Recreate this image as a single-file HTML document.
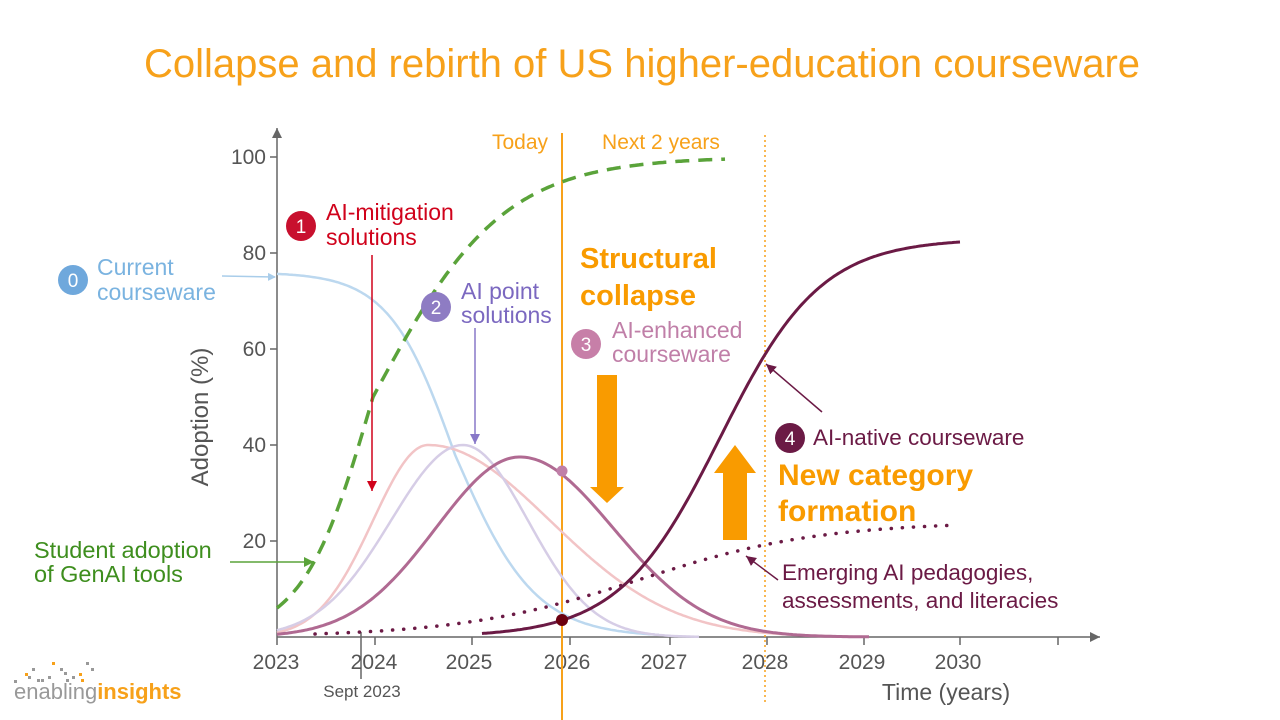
<!DOCTYPE html>
<html><head><meta charset="utf-8"><style>
body{margin:0;background:#fff;width:1280px;height:720px;overflow:hidden}
svg{display:block}
text{font-family:"Liberation Sans",sans-serif}
</style></head><body>
<svg id="s" width="1280" height="720" viewBox="0 0 1280 720" xmlns="http://www.w3.org/2000/svg">
<defs>
<marker id="ab" markerWidth="8" markerHeight="8" refX="7" refY="4" orient="auto" markerUnits="userSpaceOnUse"><path d="M0,0 L8,4 L0,8z" fill="#a9cdea"/></marker>
<marker id="ap" markerWidth="10" markerHeight="10" refX="10" refY="5" orient="auto" markerUnits="userSpaceOnUse"><path d="M0,0 L10,5 L0,10z" fill="#8878c8"/></marker>
<marker id="ar2" markerWidth="10" markerHeight="10" refX="10" refY="5" orient="auto" markerUnits="userSpaceOnUse"><path d="M0,0 L10,5 L0,10z" fill="#d0021b"/></marker>
<marker id="ag" markerWidth="10" markerHeight="10" refX="10" refY="5" orient="auto" markerUnits="userSpaceOnUse"><path d="M0,0 L10,5 L0,10z" fill="#5aa33a"/></marker>
<marker id="am" markerWidth="10" markerHeight="10" refX="10" refY="5" orient="auto" markerUnits="userSpaceOnUse"><path d="M0,0 L10,5 L0,10z" fill="#6b1a45"/></marker>
<marker id="ax" markerWidth="10" markerHeight="10" refX="10" refY="5" orient="auto" markerUnits="userSpaceOnUse"><path d="M0,0 L10,5 L0,10z" fill="#666"/></marker>
</defs>
<text x="642" y="77" text-anchor="middle" font-size="40" fill="#f7a11a">Collapse and rebirth of US higher-education courseware</text>

<!-- axes -->
<line x1="277" y1="637" x2="1100" y2="637" stroke="#666" stroke-width="1.5" marker-end="url(#ax)"/>
<line x1="277" y1="637" x2="277" y2="128" stroke="#666" stroke-width="1.5" marker-end="url(#ax)"/>
<g stroke="#666" stroke-width="1.5">
<line x1="270" y1="157" x2="277" y2="157"/><line x1="270" y1="253" x2="277" y2="253"/><line x1="270" y1="349" x2="277" y2="349"/><line x1="270" y1="445" x2="277" y2="445"/><line x1="270" y1="541" x2="277" y2="541"/>
<line x1="277" y1="637" x2="277" y2="645"/><line x1="375" y1="637" x2="375" y2="645"/><line x1="472" y1="637" x2="472" y2="645"/><line x1="570" y1="637" x2="570" y2="645"/><line x1="670" y1="637" x2="670" y2="645"/><line x1="767" y1="637" x2="767" y2="645"/><line x1="864" y1="637" x2="864" y2="645"/><line x1="960" y1="637" x2="960" y2="645"/><line x1="1058" y1="637" x2="1058" y2="645"/>
<line x1="361" y1="632" x2="361" y2="679"/>
</g>
<g font-size="21" fill="#555" text-anchor="end">
<text x="266" y="164">100</text><text x="266" y="260">80</text><text x="266" y="356">60</text><text x="266" y="452">40</text><text x="266" y="548">20</text>
</g>
<g font-size="21" fill="#555" text-anchor="middle">
<text x="276" y="669">2023</text><text x="374" y="669">2024</text><text x="469" y="669">2025</text><text x="567" y="669">2026</text><text x="664" y="669">2027</text><text x="765" y="669">2028</text><text x="862" y="669">2029</text><text x="958" y="669">2030</text>
</g>
<text x="362" y="697" font-size="17" fill="#555" text-anchor="middle">Sept 2023</text>
<text x="946" y="700" font-size="23" fill="#555" text-anchor="middle">Time (years)</text>
<text transform="translate(208,417) rotate(-90)" font-size="24" fill="#555" text-anchor="middle">Adoption (%)</text>

<!-- vertical lines -->
<line x1="562" y1="133" x2="562" y2="720" stroke="#f7a11a" stroke-width="2"/>
<line x1="765" y1="135" x2="765" y2="702" stroke="#f7a11a" stroke-width="1.5" stroke-dasharray="2,3"/>
<text x="520" y="149" font-size="21" fill="#f7a11a" text-anchor="middle">Today</text>
<text x="661" y="149" font-size="21" fill="#f7a11a" text-anchor="middle">Next 2 years</text>

<g id="curves" fill="none"></g>

<circle cx="562" cy="471" r="5.5" fill="#c07fa8"/>
<circle cx="562" cy="620" r="6" fill="#6b0010"/>

<!-- annotations arrows -->
<line x1="222" y1="276" x2="275" y2="277" stroke="#a9cdea" stroke-width="1.5" marker-end="url(#ab)"/>
<line x1="372" y1="255" x2="372" y2="491" stroke="#d0021b" stroke-width="1.5" marker-end="url(#ar2)"/>
<line x1="475" y1="328" x2="475" y2="444" stroke="#8878c8" stroke-width="1.5" marker-end="url(#ap)"/>
<line x1="230" y1="562" x2="314" y2="562" stroke="#5aa33a" stroke-width="1.5" marker-end="url(#ag)"/>
<line x1="822" y1="412" x2="766" y2="364" stroke="#6b1a45" stroke-width="1.5" marker-end="url(#am)"/>
<line x1="778" y1="580" x2="746" y2="556" stroke="#6b1a45" stroke-width="1.5" marker-end="url(#am)"/>
<path d="M597,375 H617 V487 H624 L607,503 L590,487 H597Z" fill="#f99b00"/>
<path d="M735,445 L756,473 H747 V540 H723 V473 H714Z" fill="#f99b00"/>

<!-- labels -->
<circle cx="73" cy="280" r="15" fill="#6fa8dc"/><text x="73" y="287" font-size="19" fill="#fff" text-anchor="middle">0</text>
<text x="97" y="275" font-size="23" fill="#7ab3e0">Current</text><text x="97" y="300" font-size="23" fill="#7ab3e0">courseware</text>
<circle cx="301" cy="226" r="15" fill="#c8102e"/><text x="301" y="233" font-size="19" fill="#fff" text-anchor="middle">1</text>
<text x="326" y="220" font-size="23" fill="#d0021b">AI-mitigation</text><text x="326" y="245" font-size="23" fill="#d0021b">solutions</text>
<circle cx="436" cy="307" r="15" fill="#8e7cc3"/><text x="436" y="314" font-size="19" fill="#fff" text-anchor="middle">2</text>
<text x="461" y="299" font-size="23" fill="#7b68c0">AI point</text><text x="461" y="323" font-size="23" fill="#7b68c0">solutions</text>
<circle cx="586" cy="344" r="15" fill="#c77fa8"/><text x="586" y="351" font-size="19" fill="#fff" text-anchor="middle">3</text>
<text x="612" y="338" font-size="23" fill="#c07fa8">AI-enhanced</text><text x="612" y="362" font-size="23" fill="#c07fa8">courseware</text>
<circle cx="790" cy="438" r="15" fill="#6b1a45"/><text x="790" y="445" font-size="19" fill="#fff" text-anchor="middle">4</text>
<text x="813" y="445" font-size="22.5" fill="#6b1a45">AI-native courseware</text>
<text x="580" y="268" font-size="29" font-weight="bold" fill="#f99b00">Structural</text><text x="580" y="305" font-size="29" font-weight="bold" fill="#f99b00">collapse</text>
<text x="778" y="485" font-size="30" font-weight="bold" fill="#f99b00">New category</text><text x="778" y="521" font-size="30" font-weight="bold" fill="#f99b00">formation</text>
<text x="782" y="580" font-size="22.5" fill="#6b1a45">Emerging AI pedagogies,</text><text x="782" y="608" font-size="22.5" fill="#6b1a45">assessments, and literacies</text>
<text x="34" y="558" font-size="23.5" fill="#3e8e1e">Student adoption</text><text x="34" y="582" font-size="23.5" fill="#3e8e1e">of GenAI tools</text>

<!-- logo -->
<g fill="#999">
<rect x="14" y="680" width="3" height="3"/><rect x="28" y="676" width="3" height="3"/><rect x="32" y="668" width="3" height="3"/><rect x="37" y="679" width="3" height="3"/><rect x="41" y="679" width="3" height="3"/><rect x="48" y="676" width="3" height="3"/><rect x="60" y="668" width="3" height="3"/><rect x="64" y="672" width="3" height="3"/><rect x="66" y="679" width="3" height="3"/><rect x="72" y="676" width="3" height="3"/><rect x="86" y="662" width="3" height="3"/><rect x="91" y="668" width="3" height="3"/>
</g>
<g fill="#f7a11a"><rect x="25" y="673" width="3" height="3"/><rect x="52" y="662" width="3" height="3"/><rect x="79" y="673" width="3" height="3"/><rect x="81" y="679" width="3" height="3"/></g>
<text x="14" y="699" font-size="22" fill="#999">enabling<tspan fill="#f7a11a" font-weight="bold">insights</tspan></text>
</svg>
<script>
var g=document.getElementById('curves');
function Y(v){return 637-4.8*v;}
function path(f,x0,x1,attrs){
  var d='';for(var x=x0;x<=x1;x+=2){d+=(x==x0?'M':'L')+x+','+Y(f(x)).toFixed(1);}
  var p=document.createElementNS('http://www.w3.org/2000/svg','path');p.setAttribute('d',d);
  for(var k in attrs)p.setAttribute(k,attrs[k]);g.appendChild(p);}
function gauss(x,c,a,sl,sr){var s=x<c?sl:sr;return a*Math.exp(-(x-c)*(x-c)/(2*s*s));}
path(function(x){var s=x<455?33:40;return 76/(1+Math.exp((x-455)/s));},277,660,{stroke:'#bcd8ef','stroke-width':2.5});
path(function(x){return gauss(x,428,40,55,122);},277,870,{stroke:'#f2c4c6','stroke-width':2.5});
path(function(x){return gauss(x,463,40,72,65);},277,700,{stroke:'#d6cde6','stroke-width':2.5});
path(function(x){return gauss(x,520,37.5,84,93);},277,870,{stroke:'#b06a92','stroke-width':3});
path(function(x){var s=x<373?35:65;return 100/(1+Math.exp(-(x-373)/s));},277,725,{stroke:'#5aa33a','stroke-width':3.5,'stroke-dasharray':'14,9'});
path(function(x){return 83/(1+Math.exp(-(x-720)/50.5));},482,960,{stroke:'#6b1a45','stroke-width':3});
path(function(x){return 24/(1+Math.exp(-(x-640)/90));},315,955,{stroke:'#6b1a45','stroke-width':3.5,'stroke-dasharray':'0.1,11','stroke-linecap':'round'});
</script>
</body></html>
